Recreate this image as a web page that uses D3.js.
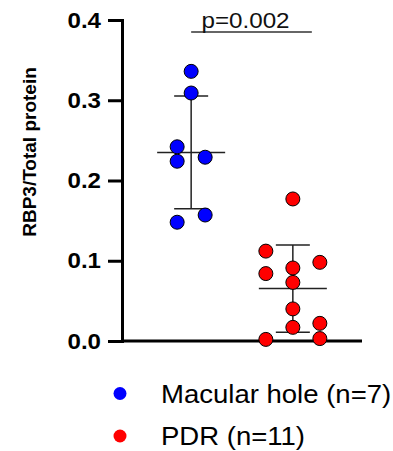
<!DOCTYPE html>
<html>
<head>
<meta charset="utf-8">
<script src="https://cdn.jsdelivr.net/npm/d3@7"></script>
<style>
  body { margin: 0; background: #fff; }
  svg { display: block; font-family: "Liberation Sans", Arial, sans-serif; }
</style>
</head>
<body>
<svg id="chart" width="393" height="451"></svg>
<script>
// data
const groups = ["Macular hole", "PDR"];
const macularHole = [0.336, 0.309, 0.242, 0.224, 0.229, 0.157, 0.148];
const pdr = [0.177, 0.112, 0.098, 0.091, 0.084, 0.073, 0.040, 0.022, 0.017, 0.002, 0.003];
const yTicks = [0.0, 0.1, 0.2, 0.3, 0.4];
const pLabel = "p=0.002";
const legendLabels = ["Macular hole (n=7)", "PDR (n=11)"];
const colors = ["#0000ff", "#ff0000"];

// dot column in the scatter as laid out in the figure (-1 left, 0 centre, 1 right)
const slotMH = [0, 0, -1, -1, 1, 1, -1];
const slotPDR = [0, -1, 1, 0, -1, 0, 0, 1, 0, -1, 1];

const svg = d3.select("#chart");
const stretch = 1.07; // text in the figure is slightly wide

const y = d3.scaleLinear().domain([0, 0.4]).range([341, 20]);
const x = d3.scalePoint().domain(groups).range([122, 362]).padding(0.68);
const spread = [14, 27];

// y axis
const yAxis = svg.append("g")
  .attr("transform", "translate(122,0)")
  .call(d3.axisLeft(y).tickValues(yTicks).tickFormat(d3.format(".1f"))
    .tickSize(14).tickSizeOuter(0).tickPadding(8));
yAxis.select(".domain").attr("stroke", "#000").attr("stroke-width", 3).attr("stroke-linecap", "square");
yAxis.selectAll(".tick line").attr("stroke", "#000").attr("stroke-width", 3);
yAxis.selectAll(".tick text")
  .attr("fill", "#000")
  .attr("font-size", 22.5)
  .attr("font-weight", "bold")
  .attr("font-family", "'Liberation Sans', Arial, sans-serif")
  .attr("transform", `translate(-21,0) scale(${stretch},1)`)
  .attr("x", 0);

// x axis line
svg.append("line")
  .attr("x1", 122).attr("x2", 362)
  .attr("y1", y(0)).attr("y2", y(0))
  .attr("stroke", "#000").attr("stroke-width", 3);

// y label
svg.append("text")
  .attr("transform", "translate(36,152) rotate(-90)")
  .attr("text-anchor", "middle")
  .attr("font-size", 19)
  .attr("font-weight", "bold")
  .text("RBP3/Total protein");

const series = [
  { name: groups[0], values: macularHole, slots: slotMH, color: colors[0], spread: spread[0] },
  { name: groups[1], values: pdr, slots: slotPDR, color: colors[1], spread: spread[1] }
];

// mean +/- SD bars
series.forEach(s => {
  const m = d3.mean(s.values), sd = d3.deviation(s.values), cx = x(s.name);
  const g = svg.append("g").attr("stroke", "#222").attr("stroke-width", 1.5);
  g.append("line").attr("x1", cx).attr("x2", cx).attr("y1", y(m + sd)).attr("y2", y(m - sd));
  g.append("line").attr("x1", cx - 34).attr("x2", cx + 34).attr("y1", y(m)).attr("y2", y(m));
  [m + sd, m - sd].forEach(v => {
    g.append("line").attr("x1", cx - 17).attr("x2", cx + 17).attr("y1", y(v)).attr("y2", y(v));
  });
});

// dots
series.forEach(s => {
  svg.append("g").selectAll("circle")
    .data(s.values)
    .join("circle")
    .attr("cx", (d, i) => x(s.name) + s.slots[i] * s.spread)
    .attr("cy", d => y(d))
    .attr("r", 7)
    .attr("fill", s.color)
    .attr("stroke", "#000")
    .attr("stroke-width", 1);
});

// significance bracket
const bx1 = x(groups[0]), bx2 = x(groups[1]) + 19;
svg.append("line")
  .attr("x1", bx1).attr("x2", bx2).attr("y1", 32).attr("y2", 32)
  .attr("stroke", "#333").attr("stroke-width", 1.3);
svg.append("text")
  .attr("transform", `translate(${(bx1 + bx2) / 2 - 6},27.5) scale(1.1,1)`)
  .attr("text-anchor", "middle")
  .attr("font-size", 22)
  .attr("fill", "#111")
  .text(pLabel);

// legend
const legend = svg.append("g");
const rows = [393.5, 436];
legendLabels.forEach((lab, i) => {
  legend.append("circle")
    .attr("cx", 120).attr("cy", rows[i]).attr("r", 6.5)
    .attr("fill", colors[i]);
  legend.append("text")
    .attr("transform", `translate(161,${rows[i] + 9}) scale(1.08,1)`)
    .attr("font-size", 25.5)
    .attr("fill", "#000")
    .text(lab);
});
</script>
</body>
</html>
